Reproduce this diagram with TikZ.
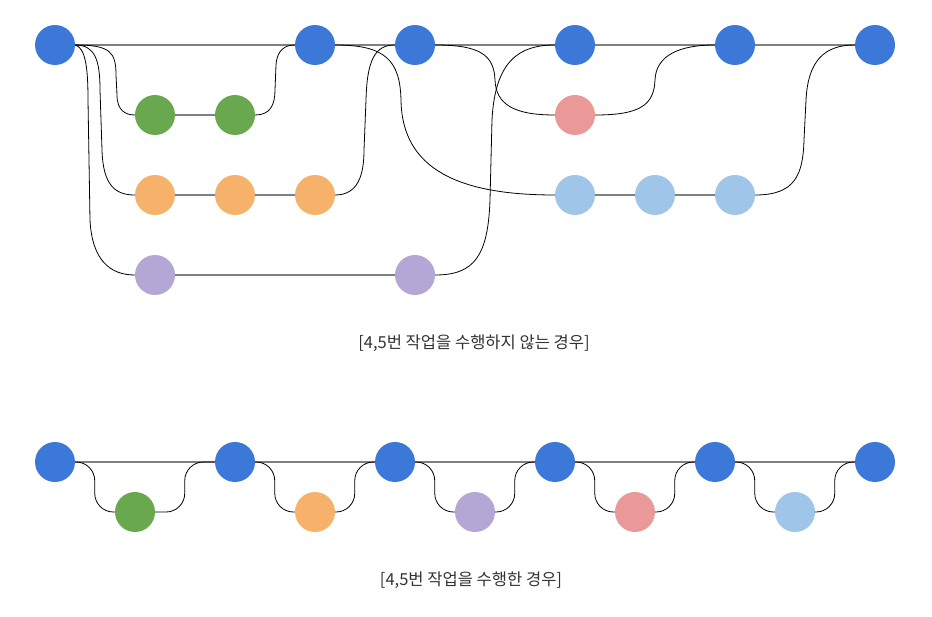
\documentclass[tikz,border=0pt]{standalone}
\usepackage{fontspec}
\newfontfamily\krfont{Noto Sans CJK KR}
\definecolor{cmain}{HTML}{3C78D8}
\definecolor{cgreen}{HTML}{6AA84F}
\definecolor{corange}{HTML}{F6B26B}
\definecolor{cpurple}{HTML}{B4A7D6}
\definecolor{cred}{HTML}{EA9999}
\definecolor{csky}{HTML}{9FC5E8}
\definecolor{ctext}{HTML}{333333}

\begin{document}
\begin{tikzpicture}
			[line cap=round,line join=round,x=0.75pt,y=-0.75pt,
			commit/.style={circle,inner sep=0pt,minimum size=30pt,fill=#1},
			trunk/.style={draw=gray,line width=1pt},
			wire/.style={draw=black,line width=0.6pt},
			caption/.style={text=ctext,font=\krfont\fontsize{12.4}{14}\selectfont}]
			\useasboundingbox (0,0) rectangle (932,617);
			% without squash
			\node[commit=cmain] (t1) at (55,45) {};
			\node[commit=cmain] (t2) at (315,45) {};
			\node[commit=cmain] (t3) at (415,45) {};
			\node[commit=cmain] (t4) at (575,45) {};
			\node[commit=cmain] (t5) at (735,45) {};
			\node[commit=cmain] (t6) at (875,45) {};
			\node[commit=cgreen] (g1) at (155,115) {};
			\node[commit=cgreen] (g2) at (235,115) {};
			\node[commit=cred] (r1) at (575,115) {};
			\node[commit=corange] (o1) at (155,195) {};
			\node[commit=corange] (o2) at (235,195) {};
			\node[commit=corange] (o3) at (315,195) {};
			\node[commit=csky] (k1) at (575,195) {};
			\node[commit=csky] (k2) at (655,195) {};
			\node[commit=csky] (k3) at (735,195) {};
			\node[commit=cpurple] (p1) at (155,275) {};
			\node[commit=cpurple] (p2) at (415,275) {};
			\draw [trunk] (t1) -- (t2) -- (t3) -- (t4) -- (t5) -- (t6);
			\draw [trunk] (g1) -- (g2);
			\draw [trunk] (o1) -- (o2) -- (o3);
			\draw [trunk] (p1) -- (p2);
			\draw [trunk] (k1) -- (k2) -- (k3);
			\draw [wire] (t1.east) .. controls (110,45) and (116,52) .. (116,75) -- (117,95) .. controls (117,110) and (125,115) .. (g1.west);
			\draw [wire] (g2.east) .. controls (270,115) and (275,105) .. (275,90) -- (276,65) .. controls (277,50) and (285,45) .. (t2.west);
			\draw [wire] (t1.east) .. controls (95,45) and (100,60) .. (100,90) -- (102,150) .. controls (103,185) and (115,195) .. (o1.west);
			\draw [wire] (o3.east) .. controls (358,195) and (364,175) .. (364,150) -- (366,100) .. controls (367,60) and (375,45) .. (t3.west);
			\draw [wire] (t1.east) .. controls (85,48) and (88,65) .. (88,100) -- (90,220) .. controls (92,260) and (110,275) .. (p1.west);
			\draw [wire] (p2.east) .. controls (475,275) and (488,255) .. (490,200) -- (492,120) .. controls (495,60) and (520,45) .. (t4.west);
			\draw [wire] (t2.east) .. controls (385,45) and (400,60) .. (401,100) .. controls (402,170) and (460,195) .. (k1.west);
			\draw [wire] (t3.east) .. controls (480,45) and (494,55) .. (495,80) .. controls (496,105) and (515,115) .. (r1.west);
			\draw [wire] (r1.east) .. controls (640,115) and (654,105) .. (655,80) .. controls (656,55) and (680,45) .. (t5.west);
			\draw [wire] (k3.east) .. controls (795,195) and (803,175) .. (804,140) -- (806,100) .. controls (808,60) and (825,45) .. (t6.west);
			\node[caption] (cap1) at (474,343) {[4,5번 작업을 수행하지 않는 경우]};
			% with squash
			\node[commit=cmain] (u1) at (55,462) {};
			\node[commit=cmain] (u2) at (235,462) {};
			\node[commit=cmain] (u3) at (395,462) {};
			\node[commit=cmain] (u4) at (555,462) {};
			\node[commit=cmain] (u5) at (715,462) {};
			\node[commit=cmain] (u6) at (875,462) {};
			\node[commit=cgreen] (s1) at (135,512) {};
			\node[commit=corange] (s2) at (315,512) {};
			\node[commit=cpurple] (s3) at (475,512) {};
			\node[commit=cred] (s4) at (635,512) {};
			\node[commit=csky] (s5) at (795,512) {};
			\draw [trunk] (u1) -- (u2) -- (u3) -- (u4) -- (u5) -- (u6);
			\draw [wire,rounded corners=14pt] (u1.east) -| ([xshift=-15pt]s1.west) -- (s1.west);
			\draw [wire,rounded corners=14pt] (s1.east) -| ([xshift=-22.5pt]u2.west) -- (u2.west);
			\draw [wire,rounded corners=14pt] (u2.east) -| ([xshift=-15pt]s2.west) -- (s2.west);
			\draw [wire,rounded corners=14pt] (s2.east) -| ([xshift=-15pt]u3.west) -- (u3.west);
			\draw [wire,rounded corners=14pt] (u3.east) -| ([xshift=-15pt]s3.west) -- (s3.west);
			\draw [wire,rounded corners=14pt] (s3.east) -| ([xshift=-15pt]u4.west) -- (u4.west);
			\draw [wire,rounded corners=14pt] (u4.east) -| ([xshift=-15pt]s4.west) -- (s4.west);
			\draw [wire,rounded corners=14pt] (s4.east) -| ([xshift=-15pt]u5.west) -- (u5.west);
			\draw [wire,rounded corners=14pt] (u5.east) -| ([xshift=-15pt]s5.west) -- (s5.west);
			\draw [wire,rounded corners=14pt] (s5.east) -| ([xshift=-15pt]u6.west) -- (u6.west);
			\node[caption] (cap2) at (471,580) {[4,5번 작업을 수행한 경우]};
		\end{tikzpicture}
\end{document}
